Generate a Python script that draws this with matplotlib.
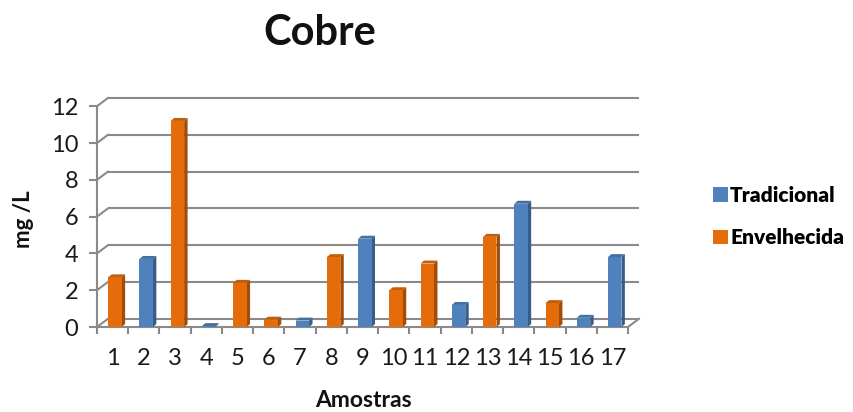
import numpy as np
import matplotlib
matplotlib.use("Agg")
import matplotlib.pyplot as plt
from matplotlib.patches import Polygon, Patch

# ---- data -------------------------------------------------------------
samples = [str(i) for i in range(1, 18)]
tradicional = [np.nan, 3.7, np.nan, 0.05, np.nan, np.nan, 0.35, np.nan, 4.8,
               np.nan, np.nan, 1.2, np.nan, 6.7, np.nan, 0.5, 3.8]
envelhecida = [2.7, np.nan, 11.2, np.nan, 2.4, 0.4, np.nan, 3.8, np.nan,
               2.0, 3.45, np.nan, 4.9, np.nan, 1.3, np.nan, np.nan]
yticks = [0, 2, 4, 6, 8, 10, 12]
series_names = ["Tradicional", "Envelhecida"]

# ---- style ------------------------------------------------------------
plt.rcParams['font.family'] = ['Lato', 'DejaVu Sans']
GRID = "#8a8a8a"
BLUE = ("#4f81bd", "#385d8a", "#42709f")      # front, side, top
ORANGE = ("#e46c0a", "#a14c07", "#c45d08")

WALL_DX, WALL_DY = 0.35, 0.445   # depth of back wall (category / value units)
BAR_DX, BAR_DY = 0.11, 0.16      # depth of each column
BAR_W, BAR_SHIFT = 0.43, 0.075

fig = plt.figure(figsize=(8.54, 4.12), dpi=100)
ax = fig.add_axes([97 / 854, 85 / 412, 531 / 854, 220.8 / 412])
ax.set_xlim(0.5, 17.5)
ax.set_ylim(0, 12)
for s in ("top", "right"):
    ax.spines[s].set_visible(False)
for s in ("left", "bottom"):
    ax.spines[s].set_color(GRID)
    ax.spines[s].set_linewidth(1.5)

x = np.arange(1, 18)
x0, x1 = 0.5, 17.5

# back wall gridlines and the oblique side lines
for yv in yticks:
    ax.plot([x0 + WALL_DX, x1 + WALL_DX], [yv + WALL_DY, yv + WALL_DY],
            color=GRID, lw=1.5, zorder=1, clip_on=False, solid_capstyle="butt")
    ax.plot([x0, x0 + WALL_DX], [yv, yv + WALL_DY],
            color=GRID, lw=1.5, zorder=1, clip_on=False)
ax.plot([x1, x1 + WALL_DX], [0, WALL_DY], color=GRID, lw=1.5, zorder=1,
        clip_on=False)


def draw_columns(values, colors):
    front, side, top = colors
    vals = np.asarray(values, dtype=float)
    mask = ~np.isnan(vals)
    bars = ax.bar(x[mask] + BAR_SHIFT, vals[mask], width=BAR_W, color=front,
                  zorder=4, linewidth=0)
    for xc, v in zip(x[mask], vals[mask]):
        left = xc + BAR_SHIFT - BAR_W / 2
        right = left + BAR_W
        ax.add_patch(Polygon([(right, 0), (right + BAR_DX, BAR_DY),
                              (right + BAR_DX, v + BAR_DY), (right, v)],
                             closed=True, facecolor=side, edgecolor="none",
                             zorder=3, clip_on=False))
        ax.add_patch(Polygon([(left, v), (right, v),
                              (right + BAR_DX, v + BAR_DY),
                              (left + BAR_DX, v + BAR_DY)],
                             closed=True, facecolor=top, edgecolor="none",
                             zorder=3, clip_on=False))
    return bars


draw_columns(tradicional, BLUE)
draw_columns(envelhecida, ORANGE)

# ticks
ax.set_yticks(yticks)
ax.set_yticklabels([str(v) for v in yticks])
ax.tick_params(axis="y", direction="out", length=5.5, width=1.5, color=GRID,
               pad=8, labelsize=17, labelcolor="#1a1a1a")
ax.set_xticks(np.arange(0.5, 18.0, 1.0))
ax.set_xticklabels([])
ax.tick_params(axis="x", which="major", direction="out", length=5, width=1.5,
               color=GRID)
ax.set_xticks(x, minor=True)
ax.set_xticklabels(samples, minor=True)
ax.tick_params(axis="x", which="minor", length=0, pad=15, labelsize=17,
               labelcolor="#1a1a1a")

# titles
fig.text(320 / 854, 1 - 45 / 412, "Cobre", ha="center", va="baseline",
         fontsize=30, fontweight="bold", color="#111111")
fig.text(363 / 854, 1 - 407 / 412, "Amostras", ha="center", va="baseline",
         fontsize=16.5, fontweight="bold", color="#111111")
fig.text(24 / 854, 1 - 219 / 412, "mg /L", ha="center", va="center",
         rotation=90, fontsize=16, fontweight="bold", color="#111111")

# legend
handles = [Patch(facecolor=BLUE[0]), Patch(facecolor=ORANGE[0])]
fig.legend(handles, series_names, loc="upper left",
           bbox_to_anchor=(713 / 854, 1 - 186 / 412), frameon=False,
           prop={"size": 15, "weight": "heavy"}, handlelength=0.72,
           handleheight=0.72, handletextpad=0.1, labelspacing=1.12,
           borderpad=0, borderaxespad=0)

fig.savefig("out.png", dpi=100)
